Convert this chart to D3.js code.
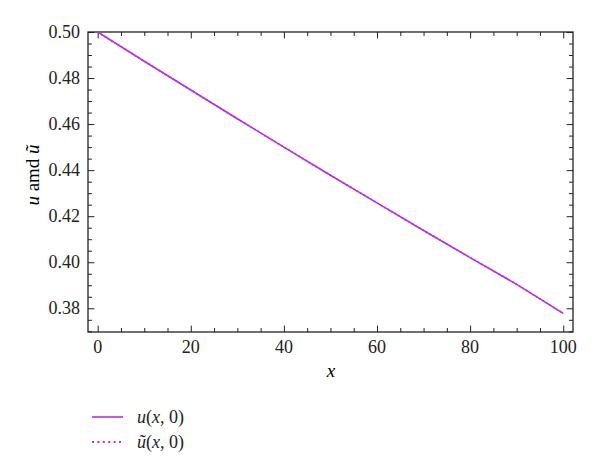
<!DOCTYPE html>
<html><head><meta charset="utf-8">
<script src="https://cdn.jsdelivr.net/npm/d3@7"></script>
<style>body{margin:0;background:#fff}svg{display:block}</style>
</head><body>
<svg id="c" width="600" height="476"></svg>
<script>
const xValues = [0,10,20,30,40,50,60,70,80,90,100];
const uValues = [0.5,0.4873,0.4748,0.4623,0.4500,0.4378,0.4258,0.4138,0.4020,0.3904,0.3778];
const uTildeValues = [0.5,0.4873,0.4748,0.4623,0.4500,0.4378,0.4258,0.4138,0.4020,0.3904,0.3778];
const xTicks = [0,20,40,60,80,100];
const yTicks = [0.38,0.40,0.42,0.44,0.46,0.48,0.50];
const seriesNames = ["u(x, 0)","ũ(x, 0)"];

const svg = d3.select("#c");
const L=88,R=573,T=32,B=332;
const x = d3.scaleLinear().domain([-2.08,102.1]).range([L,R]);
const y = d3.scaleLinear().domain([0.3697,0.50]).range([B,T]);
const col = "#b82ee0", axc="#222", font="'Liberation Serif','DejaVu Serif',serif";

const xMinor = d3.range(0,101,5), yMinor = d3.range(0.37,0.5001,0.005);
function ticks(g, scale, vals, majors, orient){
  const ax = (orient==="bottom"?d3.axisBottom:orient==="top"?d3.axisTop:orient==="left"?d3.axisLeft:d3.axisRight)(scale)
    .tickValues(vals).tickSizeInner(-4).tickSizeOuter(0).tickFormat("");
  g.call(ax);
  g.select(".domain").remove();
  g.selectAll(".tick line").attr("stroke",axc).attr("stroke-width",1)
   .each(function(d){ if(majors.some(m=>Math.abs(m-d)<1e-9)){ const l=d3.select(this); const k=(orient==="bottom"||orient==="top")?"y2":"x2"; l.attr(k, +l.attr(k)*1.6);} });
}
ticks(svg.append("g").attr("transform",`translate(0,${B})`), x, xMinor, xTicks, "bottom");
ticks(svg.append("g").attr("transform",`translate(0,${T})`), x, xMinor, xTicks, "top");
ticks(svg.append("g").attr("transform",`translate(${L},0)`), y, yMinor, yTicks, "left");
ticks(svg.append("g").attr("transform",`translate(${R},0)`), y, yMinor, yTicks, "right");

svg.append("rect").attr("x",L).attr("y",T).attr("width",R-L).attr("height",B-T)
  .attr("fill","none").attr("stroke",axc).attr("stroke-width",1.3);

svg.append("g").selectAll("text").data(xTicks).join("text")
  .attr("x",d=>x(d)).attr("y",353).attr("text-anchor","middle")
  .attr("font-family",font).attr("font-size",18).attr("fill","#222").text(d=>d);
svg.append("g").selectAll("text").data(yTicks).join("text")
  .attr("x",80).attr("y",d=>y(d)+6).attr("text-anchor","end")
  .attr("font-family",font).attr("font-size",18).attr("fill","#222").text(d=>d.toFixed(2));

svg.append("text").attr("x",331).attr("y",377).attr("text-anchor","middle")
  .attr("font-family",font).attr("font-size",19).attr("font-style","italic").text("x");
const yl = svg.append("text").attr("transform","translate(39,175) rotate(-90)").attr("text-anchor","middle")
  .attr("font-family",font).attr("font-size",19);
yl.append("tspan").attr("font-style","italic").text("u");
yl.append("tspan").text(" amd ");
yl.append("tspan").attr("font-style","italic").text("ũ");

const line = d3.line().x((d,i)=>x(xValues[i])).y(d=>y(d));
svg.append("path").datum(uValues).attr("d",line).attr("fill","none").attr("stroke",col).attr("stroke-width",1.6);
svg.append("path").datum(uTildeValues).attr("d",line).attr("fill","none").attr("stroke",col).attr("stroke-width",1.6).attr("stroke-dasharray","1.5,2.5");

const leg = svg.append("g");
seriesNames.forEach((n,i)=>{
  const yy = 417 + i*25;
  leg.append("line").attr("x1",92).attr("x2",123).attr("y1",yy).attr("y2",yy)
    .attr("stroke",col).attr("stroke-width",i?2:1.6).attr("stroke-dasharray", i? "2,3.4":null);
  const t = leg.append("text").attr("x",137).attr("y",yy+6).attr("font-family",font).attr("font-size",18).attr("fill","#222");
  t.append("tspan").attr("font-style","italic").text(i?"ũ":"u");
  t.append("tspan").text("(");
  t.append("tspan").attr("font-style","italic").text("x");
  t.append("tspan").text(", 0)");
});
</script>
</body></html>
